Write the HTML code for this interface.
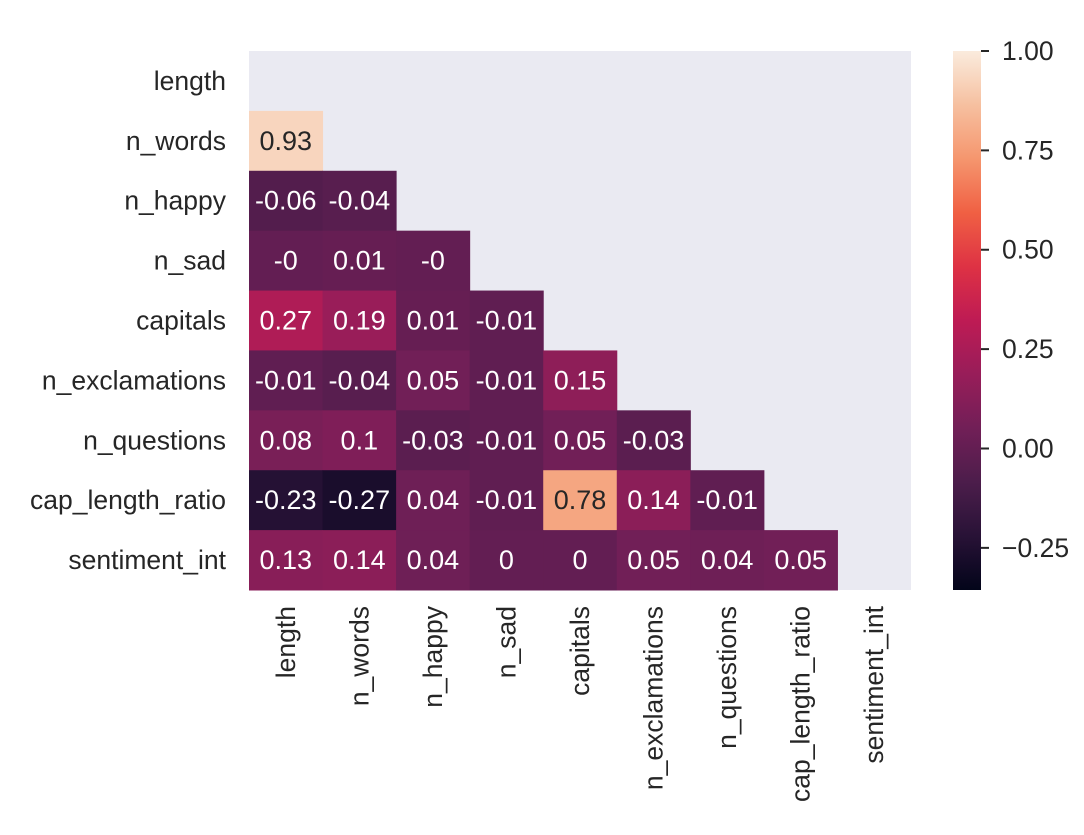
<!DOCTYPE html>
<html><head><meta charset="utf-8"><style>
body{margin:0;background:#fff;}
svg text{font-family:"Liberation Sans",Arial,sans-serif;}
</style></head><body>
<svg id="chart" width="1084" height="830" xmlns="http://www.w3.org/2000/svg">
<rect x="249" y="51" width="662" height="539" fill="#eaeaf2"/>
<g id="cells"></g><g id="ylabels"></g><g id="xlabels"></g>
<defs><linearGradient id="cbgrad" x1="0" y1="1" x2="0" y2="0"></linearGradient></defs>
<rect x="953" y="51" width="28" height="539" fill="url(#cbgrad)"/>
<g id="cbticks"></g>
</svg>
<script>
const labels = ["length","n_words","n_happy","n_sad","capitals","n_exclamations","n_questions","cap_length_ratio","sentiment_int"];
const rowValues = [
 [],
 [0.93],
 [-0.06,-0.04],
 [-0,0.01,-0],
 [0.27,0.19,0.01,-0.01],
 [-0.01,-0.04,0.05,-0.01,0.15],
 [0.08,0.1,-0.03,-0.01,0.05,-0.03],
 [-0.23,-0.27,0.04,-0.01,0.78,0.14,-0.01],
 [0.13,0.14,0.04,0,0,0.05,0.04,0.05]
];
const rowLabelsText = [
 [],["0.93"],["-0.06","-0.04"],["-0","0.01","-0"],["0.27","0.19","0.01","-0.01"],
 ["-0.01","-0.04","0.05","-0.01","0.15"],["0.08","0.1","-0.03","-0.01","0.05","-0.03"],
 ["-0.23","-0.27","0.04","-0.01","0.78","0.14","-0.01"],["0.13","0.14","0.04","0","0","0.05","0.04","0.05"]
];
const cbTicks = [1.0,0.75,0.5,0.25,0.0,-0.25];
const cbTickLabels = ["1.00","0.75","0.50","0.25","0.00","\u22120.25"];
const vmin=-0.356, vmax=1.0;
const X0=249,Y0=51,W=662,H=539,n=labels.length,cw=W/n,ch=H/n;
const stops=[[3,5,26],[40,18,54],[76,29,75],[113,31,87],[152,29,89],[190,27,84],[222,50,68],[240,96,67],[245,150,110],[246,192,160],[250,235,221]];
function cmap(v){let t=(v-vmin)/(vmax-vmin);t=Math.max(0,Math.min(1,t))*10;const i=Math.min(9,Math.floor(t)),f=t-i;
 const c=stops[i].map((a,k)=>Math.round(a+(stops[i+1][k]-a)*f));return `rgb(${c})`;}
function lum(v){return (v-vmin)/(vmax-vmin);}
const NS="http://www.w3.org/2000/svg";
function mk(tag,attrs,parent){const e=document.createElementNS(NS,tag);for(const k in attrs)e.setAttribute(k,attrs[k]);parent.appendChild(e);return e;}
const xs=c=>X0+c*cw, ys=r=>Y0+r*ch, cy=v=>Y0+(vmax-v)/(vmax-vmin)*H;
const cells=document.getElementById('cells');
rowValues.forEach((row,r)=>row.forEach((v,c)=>{
 const rc=mk('rect',{x:xs(c),y:ys(r),width:cw+0.5,height:ch+0.5,fill:cmap(v)},cells);
 
 
 const t=mk('text',{x:xs(c)+cw/2,y:ys(r)+ch/2+9,'text-anchor':'middle','font-size':27,fill:lum(v)>0.6?'#262626':'#fff'},cells);
 t.textContent=rowLabelsText[r][c];
 
 
}));
const yl=document.getElementById('ylabels'),xl=document.getElementById('xlabels');
labels.forEach((l,i)=>{
 const t=mk('text',{x:226,y:ys(i)+ch/2+9,'text-anchor':'end','font-size':26.5,fill:'#262626'},yl);t.textContent=l;
 
 
 const px=xs(i)+cw/2+9;
 const u=mk('text',{x:px,y:606,'text-anchor':'end','font-size':26.5,fill:'#262626',transform:`rotate(-90 ${px} 606)`},xl);u.textContent=l;
 
 
});
const g=document.getElementById('cbgrad');
for(let i=0;i<=20;i++){const v=vmin+(vmax-vmin)*i/20;mk('stop',{offset:(i/20),'stop-color':cmap(v)},g);}
const cb=document.getElementById('cbticks');
cbTicks.forEach((v,i)=>{const y=cy(v);
 const ln=mk('line',{x1:981,x2:989,y1:y,y2:y,stroke:'#262626','stroke-width':2},cb);
 
 
 const t=mk('text',{x:1002,y:y+9,'font-size':26.5,fill:'#262626'},cb);t.textContent=cbTickLabels[i];
 
 
});
</script>
</body></html>
